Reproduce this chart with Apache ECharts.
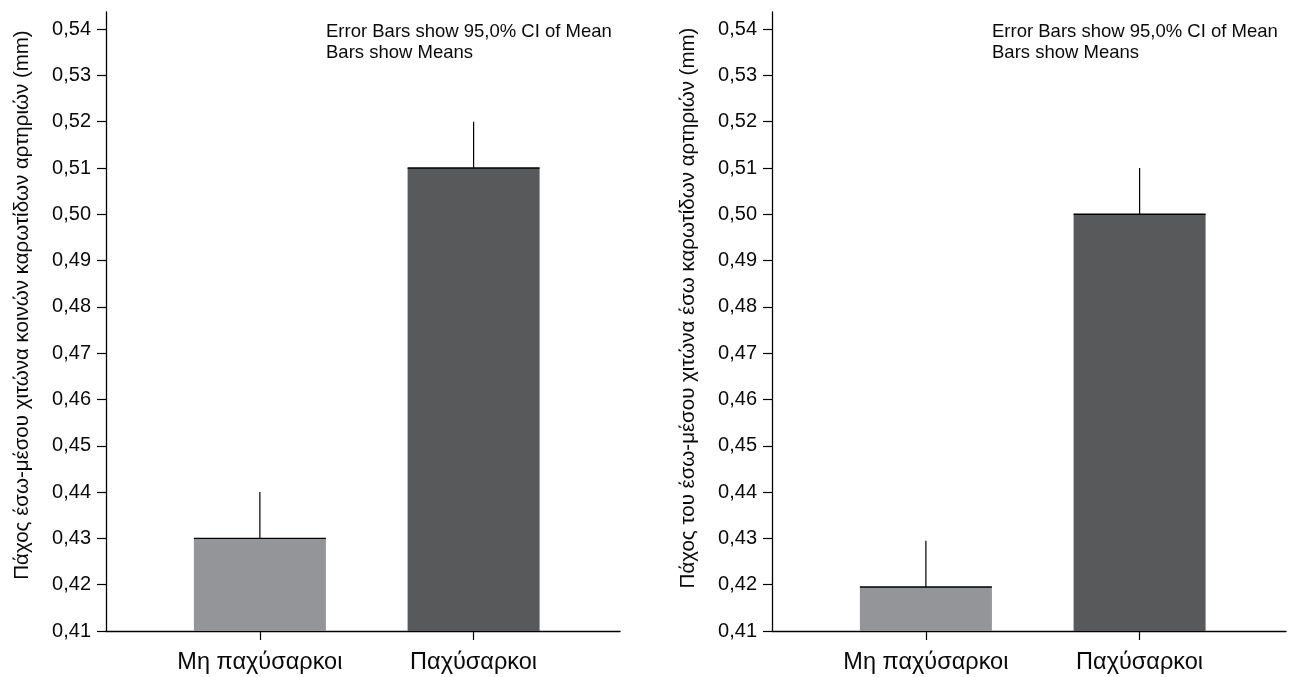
<!DOCTYPE html>
<html>
<head>
<meta charset="utf-8">
<script src="https://cdn.jsdelivr.net/npm/echarts@6/dist/echarts.min.js"></script>
<style>
html,body{margin:0;padding:0;background:#fff;}
#chart{width:1291px;height:677px;}
</style>
</head>
<body>
<div id="chart"></div>
<script>
// ---- data ----
const categories = ['Μη παχύσαρκοι', 'Παχύσαρκοι'];
const leftMeans = [0.43, 0.51];
const leftUpper = [0.44, 0.52];
const rightMeans = [0.4195, 0.50];
const rightUpper = [0.4295, 0.51];
const yTicks = [0.41, 0.42, 0.43, 0.44, 0.45, 0.46, 0.47, 0.48, 0.49, 0.50, 0.51, 0.52, 0.53, 0.54];
const leftTitle = 'Πάχος έσω-μέσου χιτώνα κοινών καρωτίδων αρτηριών (mm)';
const rightTitle = 'Πάχος του έσω-μέσου χιτώνα έσω καρωτίδων αρτηριών (mm)';
const noteText = 'Error Bars show 95,0% CI of Mean\nBars show Means';
const barColors = ['#949599', '#58595b'];

const FONT = 'Liberation Sans, Arial, sans-serif';
const BAR_W = 132;

function xAxisDef(gi) {
  return {
    type: 'value', gridIndex: gi, min: -0.72, max: 1.685,
    splitLine: {show: false},
    axisLine: {show: true, onZero: false, lineStyle: {color: '#000', width: 1.3}},
    axisTick: {show: true, customValues: [0, 1], length: 9, lineStyle: {color: '#000', width: 1.2}},
    axisLabel: {customValues: [0, 1], margin: 20, color: '#0a0a0a', fontSize: 23.5, fontFamily: FONT,
      formatter: v => categories[Math.round(v)] || ''}
  };
}
function yAxisDef(gi) {
  return {
    type: 'value', gridIndex: gi, min: 0.41, max: 0.5437,
    splitLine: {show: false},
    axisLine: {show: true, onZero: false, lineStyle: {color: '#000', width: 1.3}},
    axisTick: {show: true, customValues: yTicks, length: 9, lineStyle: {color: '#000', width: 1.2}},
    axisLabel: {customValues: yTicks, margin: 15, color: '#0a0a0a', fontSize: 20, fontFamily: FONT,
      formatter: v => v.toFixed(2).replace('.', ',')}
  };
}
function barSeries(gi, means) {
  return {
    type: 'bar', xAxisIndex: gi, yAxisIndex: gi, barWidth: BAR_W, clip: true,
    data: means.map((m, i) => ({value: [i, m], itemStyle: {color: barColors[i]}})),
    silent: true
  };
}
function errSeries(gi, means, upper) {
  return {
    type: 'custom', xAxisIndex: gi, yAxisIndex: gi, silent: true, z: 5,
    data: means.map((m, i) => [i, m, upper[i]]),
    encode: {x: 0, y: [1, 2]},
    renderItem: function (params, api) {
      const p1 = api.coord([api.value(0), api.value(1)]);
      const p2 = api.coord([api.value(0), api.value(2)]);
      const h = BAR_W / 2;
      return {type: 'group', children: [
        {type: 'line', shape: {x1: p1[0] - h, y1: p1[1], x2: p1[0] + h, y2: p1[1]}, style: {stroke: '#000', lineWidth: 1.4}},
        {type: 'line', shape: {x1: p1[0], y1: p1[1], x2: p2[0], y2: p2[1]}, style: {stroke: '#000', lineWidth: 1.2}}
      ]};
    }
  };
}
function yTitle(text, x, y) {
  return {type: 'text', x: x, y: y, rotation: Math.PI / 2,
    style: {text: text, fill: '#0a0a0a', font: '20.5px ' + FONT, align: 'center', verticalAlign: 'middle'}};
}

const chart = echarts.init(document.getElementById('chart'), null, {renderer: 'canvas'});
chart.setOption({
  animation: false,
  backgroundColor: '#fff',
  grid: [
    {left: 106, top: 12, width: 514, height: 619},
    {left: 772, top: 12, width: 514, height: 619}
  ],
  xAxis: [xAxisDef(0), xAxisDef(1)],
  yAxis: [yAxisDef(0), yAxisDef(1)],
  graphic: [
    yTitle(leftTitle, 22, 305),
    yTitle(rightTitle, 688, 308),
    {type: 'text', left: 326, top: 21, style: {text: noteText, fill: '#0a0a0a', font: '18.5px ' + FONT, lineHeight: 21}},
    {type: 'text', left: 992, top: 21, style: {text: noteText, fill: '#0a0a0a', font: '18.5px ' + FONT, lineHeight: 21}}
  ],
  series: [
    barSeries(0, leftMeans), errSeries(0, leftMeans, leftUpper),
    barSeries(1, rightMeans), errSeries(1, rightMeans, rightUpper)
  ]
});
</script>
</body>
</html>
